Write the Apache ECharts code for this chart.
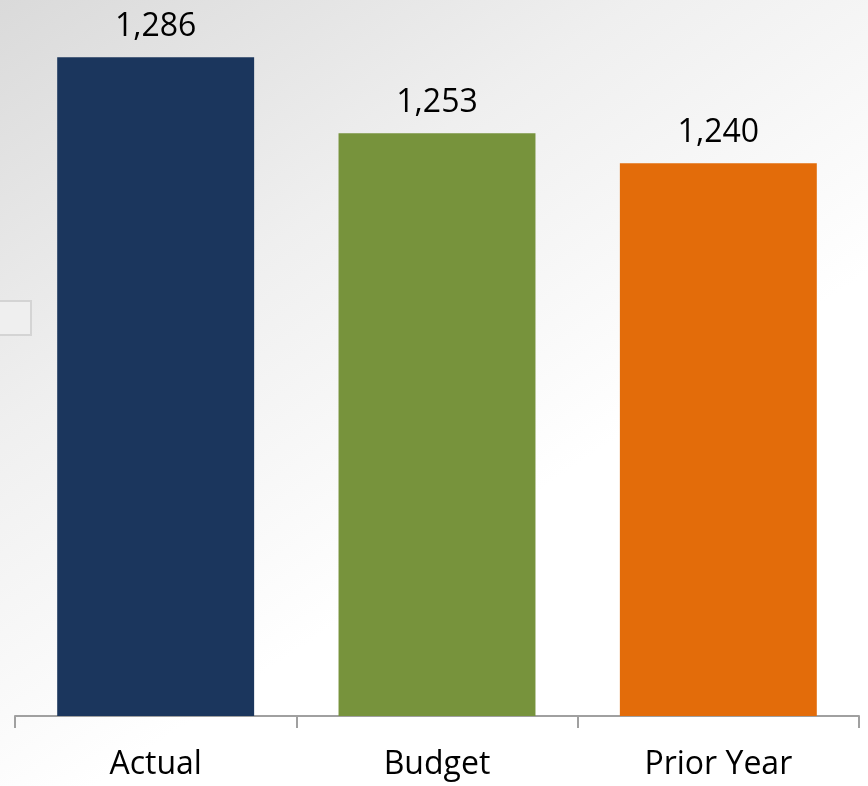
<!DOCTYPE html>
<html>
<head>
<meta charset="utf-8">
<script src="https://cdn.jsdelivr.net/npm/echarts@6/dist/echarts.min.js"></script>
<style>html,body{margin:0;padding:0;background:#fff}#c{width:868px;height:786px}</style>
</head>
<body>
<div id="c"></div>
<script>
const categories = ['Actual', 'Budget', 'Prior Year'];
const values = [1286, 1253, 1240];
const barColors = ['#1b365d', '#77933c', '#e36c0a'];
const yMin = 1000;
const yMax = 1300;

const chart = echarts.init(document.getElementById('c'));
chart.setOption({
  animation: false,
  graphic: [
    {
      type: 'rect', z: -10, silent: true,
      shape: { x: 0, y: 0, width: 868, height: 786 },
      style: {
        fill: new echarts.graphic.LinearGradient(0, 0, 0.45, 0.75, [
          { offset: 0, color: '#dadada' },
          { offset: 0.5, color: '#efefef' },
          { offset: 1, color: '#ffffff' }
        ])
      }
    },
    {
      type: 'rect', z: -5, silent: true,
      shape: { x: -10, y: 301, width: 41, height: 34 },
      style: { fill: '#efefef', stroke: '#d4d4d4', lineWidth: 2 }
    }
  ],
  grid: { left: 15, right: 9, top: 25, bottom: 70, containLabel: false },
  xAxis: {
    type: 'category',
    data: categories,
    axisLine: { lineStyle: { color: '#a0a0a0', width: 2 } },
    axisTick: { show: true, length: 12, lineStyle: { color: '#a0a0a0', width: 2 } },
    axisLabel: { color: '#000', fontSize: 32, fontFamily: 'Open Sans', margin: 33 }
  },
  yAxis: {
    type: 'value', min: yMin, max: yMax, interval: 100,
    show: false,
    splitLine: { show: false }
  },
  series: [{
    type: 'bar',
    data: values.map((v, i) => ({ value: v, itemStyle: { color: barColors[i] } })),
    barCategoryGap: '30%',
    label: {
      show: true, position: 'top', distance: 14,
      color: '#000', fontSize: 32, fontFamily: 'Open Sans',
      formatter: p => p.value.toLocaleString('en-US')
    }
  }]
});
</script>
</body>
</html>
